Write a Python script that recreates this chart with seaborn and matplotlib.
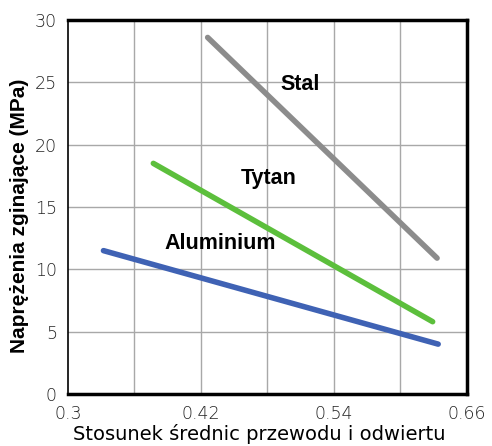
import pandas as pd
import numpy as np
import matplotlib
matplotlib.use("Agg")
import matplotlib.pyplot as plt
import seaborn as sns

# Values (start and end of each line)
materials = ["Stal", "Tytan", "Aluminium"]
stal_x = [0.426, 0.633]
stal_y = [28.6, 10.9]
tytan_x = [0.377, 0.629]
tytan_y = [18.5, 5.8]
alu_x = [0.332, 0.634]
alu_y = [11.5, 4.0]

x_ticks = [0.3, 0.42, 0.54, 0.66]
x_tick_labels = ["0.3", "0.42", "0.54", "0.66"]
x_grid = [0.36, 0.42, 0.48, 0.54, 0.60]
y_ticks = [0, 5, 10, 15, 20, 25, 30]

# Label positions (data coordinates) for the in-plot annotations
label_pos = {"Stal": (0.5094, 24.8), "Tytan": (0.4814, 17.25), "Aluminium": (0.4375, 12.1)}

colors = {"Stal": "#8c8c8c", "Tytan": "#5cbf3c", "Aluminium": "#3f62b4"}

df = pd.concat([
    pd.DataFrame({"ratio": stal_x, "stress": stal_y, "material": "Stal"}),
    pd.DataFrame({"ratio": tytan_x, "stress": tytan_y, "material": "Tytan"}),
    pd.DataFrame({"ratio": alu_x, "stress": alu_y, "material": "Aluminium"}),
], ignore_index=True)

sns.set_style("white")
plt.rcParams["font.family"] = ["Liberation Sans", "DejaVu Sans"]

fig = plt.figure(figsize=(4.92, 4.46), dpi=100)
ax = fig.add_axes([68 / 492, 52 / 446, 399 / 492, 374 / 446])

sns.lineplot(data=df, x="ratio", y="stress", hue="material", palette=colors,
             linewidth=4, legend=False, ax=ax, solid_capstyle="round")

for name, (lx, ly) in label_pos.items():
    ax.text(lx, ly, name, fontsize=15.5, fontweight="bold", color="black",
            ha="center", va="center")

# Grid
for gx in x_grid:
    ax.axvline(gx, color="#a8a8a8", linewidth=1, zorder=0)
for gy in y_ticks[1:-1]:
    ax.axhline(gy, color="#a8a8a8", linewidth=1, zorder=0)

ax.set_xlim(0.3, 0.66)
ax.set_ylim(0, 30)
ax.set_xticks(x_ticks)
ax.set_xticklabels(x_tick_labels)
ax.set_yticks(y_ticks)
ax.tick_params(axis="both", length=0, labelsize=12.5, colors="#222222", pad=8)
for lbl in ax.get_xticklabels() + ax.get_yticklabels():
    lbl.set_family("DejaVu Sans")
    lbl.set_fontweight("light")

ax.set_xlabel("Stosunek średnic przewodu i odwiertu", fontsize=14, family="DejaVu Sans",
              fontweight="medium", color="black")
ax.xaxis.set_label_coords(0.48, -0.081)
ax.set_ylabel("Naprężenia zginające (MPa)", fontsize=15, fontweight="bold", color="black")
ax.yaxis.set_label_coords(-0.098, 0.476)

for side in ["top", "bottom", "right"]:
    ax.spines[side].set_linewidth(2.5)
    ax.spines[side].set_color("black")
ax.spines["left"].set_linewidth(1.2)
ax.spines["left"].set_color("black")

fig.savefig("out.png", dpi=100, facecolor="white")
